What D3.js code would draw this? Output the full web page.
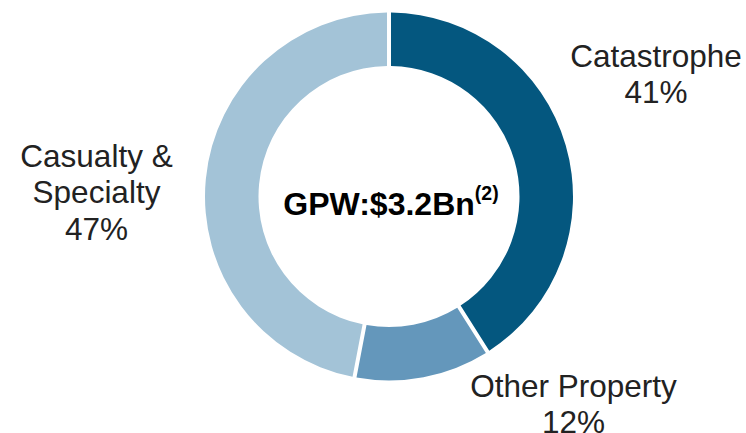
<!DOCTYPE html>
<html>
<head>
<meta charset="utf-8">
<script src="https://cdn.jsdelivr.net/npm/d3@7"></script>
<style>
  html, body { margin: 0; padding: 0; background: #fff; }
  svg { display: block; }
</style>
</head>
<body>
<svg id="chart"></svg>
<script>
let width = 746
let height = 433

// data
let categories = ["Catastrophe", "Other Property", "Casualty & Specialty"]
let shares = [41, 12, 47]
let colors = ["#04577f", "#6497bb", "#a3c3d7"]
let centerTitle = "GPW:$3.2Bn"
let centerNote = "(2)"

let svg = d3.select("#chart").attr("width", width).attr("height", height)

let cx = 389, cy = 196.5
let outerR = 184, innerR = 130.5

let pie = d3.pie().sort(null).value(d => d)
let arc = d3.arc()
    .innerRadius(innerR)
    .outerRadius(outerR)
    .padRadius(outerR)
    .padAngle(4 / outerR)

let g = svg.append("g").attr("transform", "translate(" + cx + "," + cy + ")")

g.selectAll("path")
    .data(pie(shares))
    .enter()
    .append("path")
    .attr("d", arc)
    .attr("fill", (d, i) => colors[i])

// 中心标题
let title = svg.append("text")
    .attr("x", 391)
    .attr("y", 215)
    .attr("text-anchor", "middle")
    .style("font-family", "'Liberation Sans', Arial, sans-serif")
    .style("font-weight", "bold")
    .style("font-size", "32px")
    .attr("fill", "#000")
title.append("tspan").text(centerTitle)
title.append("tspan")
    .attr("dy", -15)
    .style("font-size", "19.5px")
    .text(centerNote)

// 标签
let labels = [
    { lines: ["Catastrophe", shares[0] + "%"], x: 656, y: 66.5 },
    { lines: ["Other Property", shares[1] + "%"], x: 573.5, y: 396.5 },
    { lines: ["Casualty &", "Specialty", shares[2] + "%"], x: 96.5, y: 166.5 }
]

labels.forEach(l => {
    let t = svg.append("text")
        .attr("text-anchor", "middle")
        .style("font-family", "'Liberation Sans', Arial, sans-serif")
        .style("font-size", "31.5px")
        .attr("fill", "#222")
    l.lines.forEach((s, i) => {
        t.append("tspan")
            .attr("x", l.x)
            .attr("y", l.y + i * 36.8)
            .text(s)
    })
})
</script>
</body>
</html>
